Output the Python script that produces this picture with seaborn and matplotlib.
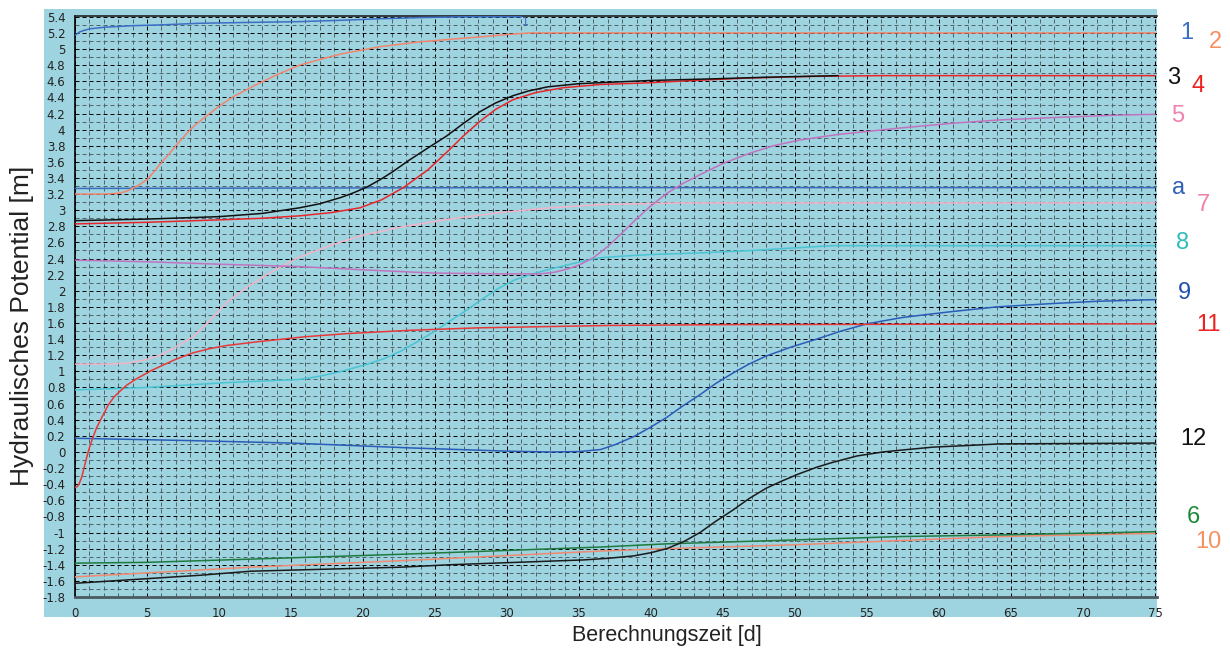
import matplotlib
matplotlib.use("Agg")
import matplotlib.pyplot as plt
from matplotlib.patches import Rectangle
from matplotlib.ticker import MultipleLocator, FuncFormatter
import pandas as pd
import seaborn as sns

# --- Daten ---
t1 = [0, 0.15, 0.3, 0.6, 1, 2, 4, 6, 8.7, 12, 15.6, 19, 21, 24, 27, 31]
h1 = [5.17, 5.19, 5.21, 5.23, 5.25, 5.27, 5.29, 5.30, 5.32, 5.33, 5.34, 5.36, 5.375, 5.39, 5.40, 5.40]

t2 = [0, 2, 3, 3.5, 4, 4.5, 5, 5.5, 5.9, 6.5, 7, 7.5, 8, 8.5, 9, 10, 11, 12.5, 14, 15.6, 17, 18.5, 20,
      21.2, 24, 26, 28.1, 30, 31.6, 75]
h2 = [3.20, 3.20, 3.21, 3.23, 3.27, 3.32, 3.38, 3.48, 3.57, 3.69, 3.80, 3.90, 4.00, 4.08, 4.15, 4.29,
      4.41, 4.55, 4.68, 4.80, 4.87, 4.94, 4.99, 5.03, 5.09, 5.12, 5.15, 5.18, 5.20, 5.20]

t3 = [0, 5, 10, 13, 15.6, 17, 18.5, 19.4, 20.3, 21.2, 22, 23.2, 24.4, 25.8, 27, 28.1, 29.2, 30.4, 31.5,
      32.8, 35, 37.4, 40, 44.3, 48, 53]
h3 = [2.87, 2.89, 2.92, 2.96, 3.03, 3.08, 3.16, 3.22, 3.29, 3.38, 3.47, 3.62, 3.76, 3.92, 4.08, 4.22,
      4.33, 4.42, 4.48, 4.53, 4.57, 4.59, 4.61, 4.63, 4.65, 4.67]

t4 = [0, 5, 10, 13, 15.6, 17.8, 19.8, 21.3, 22.8, 24.5, 26, 26.9, 28.1, 29.2, 30.4, 32, 33.9, 36.5,
      39.7, 43, 46.7, 51, 55.9, 75]
h4 = [2.83, 2.85, 2.88, 2.90, 2.93, 2.97, 3.03, 3.13, 3.28, 3.50, 3.75, 3.91, 4.10, 4.25, 4.37, 4.46,
      4.52, 4.56, 4.58, 4.61, 4.64, 4.66, 4.67, 4.67]

t5 = [0, 5, 10, 15.6, 20, 24.9, 29.5, 32.3, 33.3, 34.2, 35, 36, 37, 38, 38.8, 39.9, 41.1, 42.2, 43.4,
      45, 46.9, 48.5, 50.3, 53, 57.3, 61, 64.2, 68, 72.4, 75]
h5 = [2.38, 2.36, 2.33, 2.30, 2.26, 2.22, 2.21, 2.21, 2.23, 2.27, 2.32, 2.41, 2.55, 2.72, 2.86, 3.04,
      3.21, 3.33, 3.44, 3.58, 3.71, 3.80, 3.87, 3.94, 4.02, 4.08, 4.12, 4.15, 4.18, 4.19]

ta = [0, 30, 75]
ha = [3.27, 3.28, 3.28]

t7 = [0, 2, 3.6, 4.8, 5.9, 7, 8.2, 9.3, 10.5, 12, 13.5, 15.6, 18, 20, 22.6, 26, 29.5, 33, 36.5, 42, 75]
h7 = [1.09, 1.09, 1.10, 1.14, 1.20, 1.30, 1.43, 1.62, 1.85, 2.05, 2.22, 2.42, 2.58, 2.69, 2.79, 2.89,
      2.97, 3.03, 3.07, 3.09, 3.09]

t8 = [0, 5, 10.5, 15.6, 17, 18.5, 20.3, 21.5, 22.6, 23.8, 24.9, 26, 27.2, 28.3, 29.5, 30.6, 31.8, 33,
      34.2, 35.3, 36.5, 38, 40, 43.4, 47, 52.6, 75]
h8 = [0.77, 0.80, 0.86, 0.90, 0.94, 1.00, 1.09, 1.16, 1.25, 1.37, 1.49, 1.62, 1.76, 1.90, 2.04, 2.14,
      2.21, 2.27, 2.32, 2.37, 2.41, 2.43, 2.45, 2.47, 2.50, 2.56, 2.56]

t9 = [0, 8.2, 15.1, 23.3, 30, 33, 35, 36.5, 37.5, 38.8, 40, 41.1, 42.2, 43.4, 44.5, 45.7, 46.8, 48,
      49.7, 51.5, 53.2, 55, 57.5, 60.8, 64, 67.7, 71, 75]
h9 = [0.17, 0.14, 0.11, 0.05, 0.01, 0.0, 0.005, 0.03, 0.09, 0.19, 0.31, 0.43, 0.57, 0.71, 0.85, 0.98,
      1.09, 1.19, 1.30, 1.40, 1.50, 1.59, 1.67, 1.74, 1.80, 1.84, 1.87, 1.89]

t11 = [0, 0.15, 0.3, 0.45, 0.6, 0.75, 0.9, 1.05, 1.2, 1.5, 1.95, 2.3, 2.7, 3.1, 3.6, 4.2, 4.7, 5.3, 5.9,
       7, 8.2, 9.3, 10.5, 12.8, 16, 19, 23.3, 28, 37.2, 45, 75]
h11 = [-0.44, -0.43, -0.39, -0.32, -0.22, -0.11, -0.01, 0.08, 0.16, 0.30, 0.46, 0.58, 0.68, 0.75, 0.83,
       0.90, 0.95, 1.01, 1.06, 1.15, 1.23, 1.28, 1.32, 1.37, 1.43, 1.47, 1.51, 1.54, 1.57, 1.58, 1.59]

t12 = [0, 8.7, 12.2, 22.6, 26, 35.3, 37, 38.8, 40, 41.1, 42.3, 43.4, 44.5, 45.7, 46.8, 48, 49.1, 50.3,
       51.5, 52.6, 54.3, 56.1, 57.8, 59.6, 62, 64.2, 75]
h12 = [-1.63, -1.53, -1.48, -1.43, -1.40, -1.34, -1.32, -1.29, -1.25, -1.20, -1.11, -1.00, -0.86, -0.72,
       -0.58, -0.45, -0.36, -0.27, -0.19, -0.13, -0.05, 0.0, 0.03, 0.06, 0.08, 0.10, 0.11]

t6 = [0, 5, 12.2, 22.6, 36.5, 41.1, 50.3, 57.3, 64.2, 75]
h6 = [-1.38, -1.37, -1.33, -1.27, -1.18, -1.14, -1.09, -1.05, -1.03, -0.99]

t10 = [0, 12.2, 22.6, 36.5, 41.1, 50.3, 64.2, 75]
h10 = [-1.55, -1.43, -1.35, -1.23, -1.20, -1.15, -1.05, -1.01]

kurven = [
    ("a", ta, ha), ("8", t8, h8), ("7", t7, h7), ("5", t5, h5), ("9", t9, h9), ("11", t11, h11),
    ("2", t2, h2), ("1", t1, h1), ("4", t4, h4), ("3", t3, h3), ("10", t10, h10), ("6", t6, h6),
    ("12", t12, h12),
]
linienfarben = {
    "1": "#3b6fc6", "2": "#f4856c", "3": "#111111", "4": "#e8262a", "5": "#c074c0", "a": "#3a6cc0",
    "7": "#f4b4c8", "8": "#48c4d4", "9": "#2a5cb8", "11": "#e83838", "12": "#1a1a1a",
    "6": "#1e7a3e", "10": "#f08a70",
}

# Beschriftungen rechts neben dem Diagramm (Pixelpositionen im Bild)
etiketten = ["1", "2", "3", "4", "5", "a", "7", "8", "9", "11", "12", "6", "10"]
etikett_farben = ["#3a6fc0", "#f59060", "#111111", "#ee2020", "#f080b0", "#3060b8", "#f080a8",
                  "#30bcb8", "#2050b0", "#ee2020", "#111111", "#1a8a3a", "#f59060"]
etikett_pos = [(1187, 33), (1215, 42), (1174, 78), (1198, 86), (1178, 116), (1179, 188),
               (1203, 205), (1183, 243), (1184, 293), (1208, 325), (1193, 439), (1193, 517),
               (1208, 542)]

BG = "#9ed3e0"
W, H = 1230, 650

sns.set_style("white")
plt.rcParams["font.family"] = ["Liberation Sans", "DejaVu Sans"]
plt.rcParams["axes.unicode_minus"] = False

fig = plt.figure(figsize=(W / 100, H / 100), dpi=100)
fig.patch.set_facecolor("white")
fig.patches.append(Rectangle((44 / W, 1 - 617 / H), (1157 - 44) / W, (617 - 9) / H,
                             transform=fig.transFigure, facecolor=BG, edgecolor="none", zorder=-10))
ax = fig.add_axes([75 / W, 1 - 597 / H, (1157 - 75) / W, (597 - 16) / H])
ax.set_zorder(1)
ax.set_facecolor(BG)

for name, t, h in kurven:
    df = pd.DataFrame({"t": t, "h": h})
    sns.lineplot(data=df, x="t", y="h", ax=ax, color=linienfarben[name], linewidth=1.1,
                 estimator=None, sort=False, legend=False, zorder=3)

# kleine Kurvennummer im Diagramm
ax.text(31.3, 5.335, "1", color="#3b6fc6", fontsize=8, family="DejaVu Sans", ha="center", va="center")

ax.set_xlim(0, 75.14)
ax.set_ylim(-1.8, 5.41)
ax.xaxis.set_major_locator(MultipleLocator(5))
ax.xaxis.set_minor_locator(MultipleLocator(1))
ax.yaxis.set_major_locator(MultipleLocator(0.2))
ax.yaxis.set_minor_locator(MultipleLocator(0.1))
ax.yaxis.set_major_formatter(FuncFormatter(lambda v, p: f"{round(v, 1) + 0.0:g}"))
ax.xaxis.set_major_formatter(FuncFormatter(lambda v, p: f"{round(v) + 0:g}"))

ax.set_axisbelow(True)
ax.grid(which="major", color="black", linestyle=(0, (4, 3)), linewidth=0.72)
ax.grid(which="minor", color="#52646a", linestyle=(0, (4, 3)), linewidth=0.72)
ax.tick_params(which="major", direction="out", length=4, width=1, color="#222222",
               labelsize=8.5, labelcolor="#222222", pad=3)
ax.tick_params(which="minor", length=0)
for lab in ax.get_xticklabels() + ax.get_yticklabels():
    lab.set_family("DejaVu Sans")

ax.spines["right"].set_visible(False)
ax.spines["top"].set_color("#222222")
ax.spines["top"].set_linewidth(1.2)
ax.spines["left"].set_color("black")
ax.spines["left"].set_linewidth(1.2)
ax.spines["bottom"].set_color("#4a5a60")
ax.spines["bottom"].set_linewidth(2)

ax.set_xlabel("")
ax.set_ylabel("")
fig.text(667 / W, 1 - 635 / H, "Berechnungszeit [d]", ha="center", va="center", fontsize=15.5,
         color="#222222")
fig.text(22 / W, 1 - 326 / H, "Hydraulisches Potential [m]", ha="center", va="center",
         rotation=90, fontsize=19, color="#222222")

for txt, col, (px, py) in zip(etiketten, etikett_farben, etikett_pos):
    fig.text(px / W, 1 - py / H, txt, color=col, fontsize=17, ha="center", va="center")

fig.savefig("out.png", dpi=100, facecolor="white")
